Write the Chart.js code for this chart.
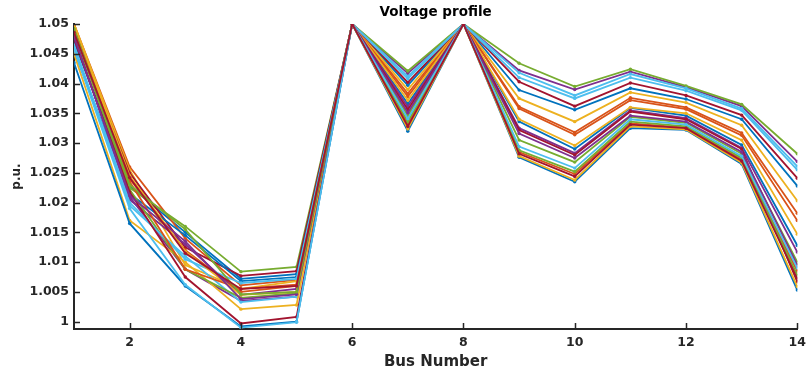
<!DOCTYPE html>
<html>
<head>
<meta charset="utf-8">
<style>
  html, body { margin: 0; padding: 0; background: #ffffff; }
  #wrap { width: 812px; height: 374px; }
</style>
<script src="https://cdn.jsdelivr.net/npm/chart.js@4/dist/chart.umd.min.js"></script>
</head>
<body>
<div id="wrap"><canvas id="c" width="812" height="374"></canvas></div>
<script>
// ---- data ----
const busNumbers = [1, 2, 3, 4, 5, 6, 7, 8, 9, 10, 11, 12, 13, 14];
const xTicks = [2, 4, 6, 8, 10, 12, 14];
const yTicks = [1, 1.005, 1.01, 1.015, 1.02, 1.025, 1.03, 1.035, 1.04, 1.045, 1.05];

const run1  = [1.0470, 1.0228, 1.0150, 1.0072, 1.0080, 1.05, 1.0397, 1.05, 1.0389, 1.0356, 1.0392, 1.0374, 1.0340, 1.0228];
const run2  = [1.0500, 1.0260, 1.0140, 1.0061, 1.0070, 1.05, 1.0383, 1.05, 1.0361, 1.0318, 1.0376, 1.0360, 1.0317, 1.0182];
const run3  = [1.0500, 1.0255, 1.0095, 1.0055, 1.0068, 1.05, 1.0390, 1.05, 1.0375, 1.0336, 1.0385, 1.0368, 1.0330, 1.0203];
const run4  = [1.0480, 1.0210, 1.0088, 1.0035, 1.0042, 1.05, 1.0417, 1.05, 1.0422, 1.0390, 1.0420, 1.0394, 1.0362, 1.0269];
const run5  = [1.0495, 1.0225, 1.0160, 1.0084, 1.0092, 1.05, 1.0421, 1.05, 1.0434, 1.0395, 1.0424, 1.0396, 1.0365, 1.0282];
const run6  = [1.0460, 1.0195, 1.0110, 1.0033, 1.0042, 1.05, 1.0412, 1.05, 1.0418, 1.0380, 1.0416, 1.0392, 1.0358, 1.0261];
const run7  = [1.0490, 1.0250, 1.0125, 1.0077, 1.0085, 1.05, 1.0402, 1.05, 1.0403, 1.0362, 1.0401, 1.0380, 1.0347, 1.0241];
const run8  = [1.0455, 1.0215, 1.0145, 1.0068, 1.0075, 1.05, 1.0366, 1.05, 1.0336, 1.0290, 1.0359, 1.0346, 1.0297, 1.0128];
const run9  = [1.0498, 1.0240, 1.0120, 1.0050, 1.0060, 1.05, 1.0378, 1.05, 1.0358, 1.0314, 1.0372, 1.0357, 1.0313, 1.0170];
const run10 = [1.0450, 1.0170, 1.0100, 1.0021, 1.0028, 1.05, 1.0372, 1.05, 1.0340, 1.0296, 1.0360, 1.0350, 1.0305, 1.0147];
const run11 = [1.0482, 1.0205, 1.0130, 1.0045, 1.0055, 1.05, 1.0361, 1.05, 1.0325, 1.0283, 1.0355, 1.0342, 1.0292, 1.0117];
const run12 = [1.0488, 1.0222, 1.0088, 1.0040, 1.0048, 1.05, 1.0346, 1.05, 1.0305, 1.0268, 1.0344, 1.0334, 1.0282, 1.0100];
const run13 = [1.0465, 1.0200, 1.0105, 1.0065, 1.0072, 1.05, 1.0408, 1.05, 1.0410, 1.0375, 1.0410, 1.0388, 1.0355, 1.0255];
const run14 = [1.0475, 1.0218, 1.0075, 0.9997, 1.0008, 1.05, 1.0356, 1.05, 1.0322, 1.0280, 1.0353, 1.0340, 1.0290, 1.0067];
const run15 = [1.0435, 1.0165, 1.0060, 0.9992, 1.0000, 1.05, 1.0320, 1.05, 1.0276, 1.0235, 1.0325, 1.0322, 1.0265, 1.0053];
const run16 = [1.0496, 1.0235, 1.0088, 1.0055, 1.0062, 1.05, 1.0332, 1.05, 1.0285, 1.0248, 1.0333, 1.0326, 1.0272, 1.0085];
const run17 = [1.0500, 1.0245, 1.0118, 1.0045, 1.0050, 1.05, 1.0324, 1.05, 1.0278, 1.0238, 1.0328, 1.0323, 1.0267, 1.0059];
const run18 = [1.0478, 1.0212, 1.0135, 1.0038, 1.0046, 1.05, 1.0351, 1.05, 1.0316, 1.0275, 1.0346, 1.0336, 1.0285, 1.0095];
const run19 = [1.0492, 1.0230, 1.0155, 1.0046, 1.0050, 1.05, 1.0336, 1.05, 1.0288, 1.0252, 1.0336, 1.0328, 1.0275, 1.0078];
const run20 = [1.0458, 1.0190, 1.0062, 0.9990, 0.9999, 1.05, 1.0341, 1.05, 1.0294, 1.0258, 1.0340, 1.0331, 1.0278, 1.0090];
const run21 = [1.0486, 1.0242, 1.0115, 1.0055, 1.0060, 1.05, 1.0328, 1.05, 1.0282, 1.0244, 1.0331, 1.0325, 1.0270, 1.0072];

const allRuns = [run1, run2, run3, run4, run5, run6, run7, run8, run9, run10, run11,
                 run12, run13, run14, run15, run16, run17, run18, run19, run20, run21];
const lineColors = ['#0072BD', '#D95319', '#EDB120', '#7E2F8E', '#77AC30', '#4DBEEE', '#A2142F'];

// ---- chart ----
const FONT = '"DejaVu Sans", Verdana, sans-serif';
const AXIS = '#262626';

const datasets = allRuns.map((run, i) => ({
  label: 'Case ' + (i + 1),
  data: busNumbers.map((b, k) => ({ x: b, y: run[k] })),
  borderColor: lineColors[i % lineColors.length],
  backgroundColor: lineColors[i % lineColors.length],
  borderWidth: 1.8,
  pointRadius: 1.7,
  pointHoverRadius: 1.7,
  pointBorderWidth: 0,
  tension: 0,
  order: allRuns.length - i
}));

const inwardTicks = {
  id: 'inwardTicks',
  afterDraw(chart) {
    const { ctx, chartArea, scales } = chart;
    ctx.save();
    ctx.strokeStyle = AXIS;
    ctx.lineWidth = 1.5;
    ctx.beginPath();
    yTicks.forEach(v => {
      const py = Math.round(scales.y.getPixelForValue(v)) + 0.5;
      ctx.moveTo(chartArea.left, py);
      ctx.lineTo(chartArea.left + 6, py);
    });
    xTicks.forEach(v => {
      const px = Math.round(scales.x.getPixelForValue(v)) + 0.5;
      ctx.moveTo(px, chartArea.bottom);
      ctx.lineTo(px, chartArea.bottom - 6);
    });
    ctx.stroke();
    ctx.restore();
  }
};

new Chart(document.getElementById('c'), {
  type: 'line',
  data: { datasets },
  options: {
    responsive: false,
    animation: false,
    events: [],
    layout: { padding: { left: 0, right: 12, top: 0, bottom: 0 } },
    plugins: {
      legend: { display: false },
      tooltip: { enabled: false },
      title: {
        display: true,
        text: 'Voltage profile',
        fullSize: false,
        color: '#000000',
        font: { family: FONT, size: 13.5, weight: 'bold' },
        padding: { top: 4.2, bottom: 3.6 }
      }
    },
    scales: {
      x: {
        type: 'linear',
        min: 1,
        max: 14,
        afterBuildTicks(scale) { scale.ticks = xTicks.map(v => ({ value: v })); },
        afterFit(scale) { scale.height = 45; },
        grid: { display: false, drawTicks: false },
        border: { display: true, color: AXIS, width: 2 },
        ticks: {
          color: AXIS,
          padding: 6,
          maxRotation: 0,
          font: { family: FONT, size: 12.5, weight: 'bold' },
          callback: v => String(v)
        },
        title: {
          display: true,
          text: 'Bus Number',
          color: AXIS,
          font: { family: FONT, size: 15, weight: 'bold' },
          padding: { top: 0, bottom: 3 }
        }
      },
      y: {
        type: 'linear',
        min: 0.99877,
        max: 1.05,
        afterBuildTicks(scale) { scale.ticks = yTicks.map(v => ({ value: v })); },
        afterFit(scale) { scale.width = 74; },
        grid: { display: false, drawTicks: false },
        border: { display: true, color: AXIS, width: 2 },
        ticks: {
          color: AXIS,
          padding: 5,
          font: { family: FONT, size: 12.5, weight: 'bold' },
          callback: v => String(Number(v.toFixed(3)))
        },
        title: {
          display: true,
          text: 'p.u.',
          color: AXIS,
          font: { family: FONT, size: 12, weight: 'bold' },
          padding: { top: 10, bottom: 0 }
        }
      }
    }
  },
  plugins: [inwardTicks]
});
</script>
</body>
</html>
